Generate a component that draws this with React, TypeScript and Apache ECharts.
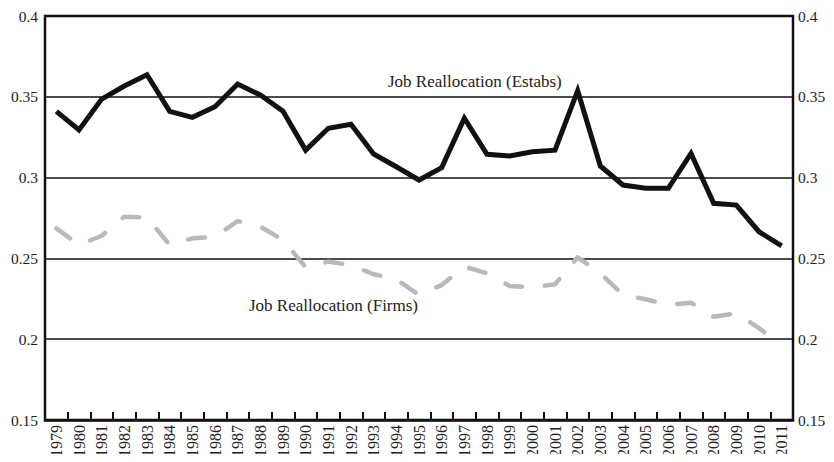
import React, { useEffect, useRef } from "react";
import * as echarts from "echarts";

const years = [
  "1979", "1980", "1981", "1982", "1983", "1984", "1985", "1986", "1987", "1988", "1989",
  "1990", "1991", "1992", "1993", "1994", "1995", "1996", "1997", "1998", "1999", "2000",
  "2001", "2002", "2003", "2004", "2005", "2006", "2007", "2008", "2009", "2010", "2011",
];

const estabs = [
  0.341, 0.3295, 0.3486, 0.3567, 0.3637, 0.341, 0.3373, 0.3439, 0.3579, 0.3511, 0.341,
  0.317, 0.3305, 0.333, 0.3146, 0.3067, 0.2985, 0.3062, 0.3367, 0.3144, 0.3134, 0.316,
  0.317, 0.3538, 0.3072, 0.2954, 0.2934, 0.2934, 0.315, 0.2841, 0.283, 0.2665, 0.2577,
];

const firms = [
  0.2686, 0.2583, 0.264, 0.2758, 0.2754, 0.2583, 0.2624, 0.2634, 0.2731, 0.2696, 0.2614,
  0.2445, 0.248, 0.2459, 0.2402, 0.2371, 0.2274, 0.2335, 0.2449, 0.2408, 0.2329, 0.2321,
  0.234, 0.2507, 0.2408, 0.2274, 0.2247, 0.2212, 0.2226, 0.2139, 0.216, 0.2068, 0.1964,
];

const yMin = 0.15;
const yMax = 0.4;
const yStep = 0.05;

const FONT = "'Liberation Serif', 'DejaVu Serif', serif";

export default function App() {
  const ref = useRef<HTMLDivElement>(null);
  useEffect(() => {
    if (!ref.current) return;
    const chart = echarts.init(ref.current, undefined, { renderer: "svg" });
    const yAxisCommon = {
      type: "value" as const,
      min: yMin,
      max: yMax,
      interval: yStep,
      axisLine: { show: false },
      axisTick: { show: false },
    };
    const yLabel = (margin: number) => ({
      fontFamily: FONT,
      fontSize: 15.5,
      color: "#222",
      margin,
      formatter: (v: number) => String(Math.round(v * 100) / 100),
    });
    chart.setOption({
      animation: false,
      backgroundColor: "#fff",
      grid: {
        left: 45,
        right: 41,
        top: 16,
        bottom: 42,
        show: true,
        borderColor: "#111",
        borderWidth: 2.5,
        backgroundColor: "transparent",
      },
      xAxis: {
        type: "category",
        data: years,
        boundaryGap: true,
        axisLine: { show: true, lineStyle: { color: "#111", width: 2.5 } },
        axisTick: {
          show: true,
          inside: true,
          length: 8,
          interval: 0,
          lineStyle: { color: "#111", width: 2 },
        },
        axisLabel: {
          interval: 0,
          rotate: 90,
          fontFamily: FONT,
          fontSize: 16,
          color: "#222",
          margin: 5,
        },
        splitLine: { show: false },
      },
      yAxis: [
        {
          ...yAxisCommon,
          position: "left",
          axisLabel: yLabel(7),
          splitLine: { show: true, lineStyle: { color: "#111", width: 1.5 } },
        },
        {
          ...yAxisCommon,
          position: "right",
          axisLabel: yLabel(5),
          splitLine: { show: false },
        },
      ],
      series: [
        {
          name: "Job Reallocation (Firms)",
          type: "line",
          data: firms,
          symbol: "none",
          lineStyle: {
            color: "#b9b9bb",
            width: 4.5,
            type: [17, 23],
            cap: "round",
            join: "round",
          },
          z: 3,
        },
        {
          name: "Job Reallocation (Estabs)",
          type: "line",
          data: estabs,
          symbol: "none",
          lineStyle: { color: "#111", width: 5, join: "miter" },
          z: 4,
        },
      ],
      graphic: [
        {
          type: "text",
          left: 388,
          top: 73,
          style: {
            text: "Job Reallocation (Estabs)",
            font: `17px ${FONT}`,
            fill: "#222",
          },
        },
        {
          type: "text",
          left: 249,
          top: 297,
          style: {
            text: "Job Reallocation (Firms)",
            font: `17px ${FONT}`,
            fill: "#222",
          },
        },
      ],
    });
    return () => chart.dispose();
  }, []);
  return <div ref={ref} style={{ width: 834, height: 462, margin: -8 }} />;
}
